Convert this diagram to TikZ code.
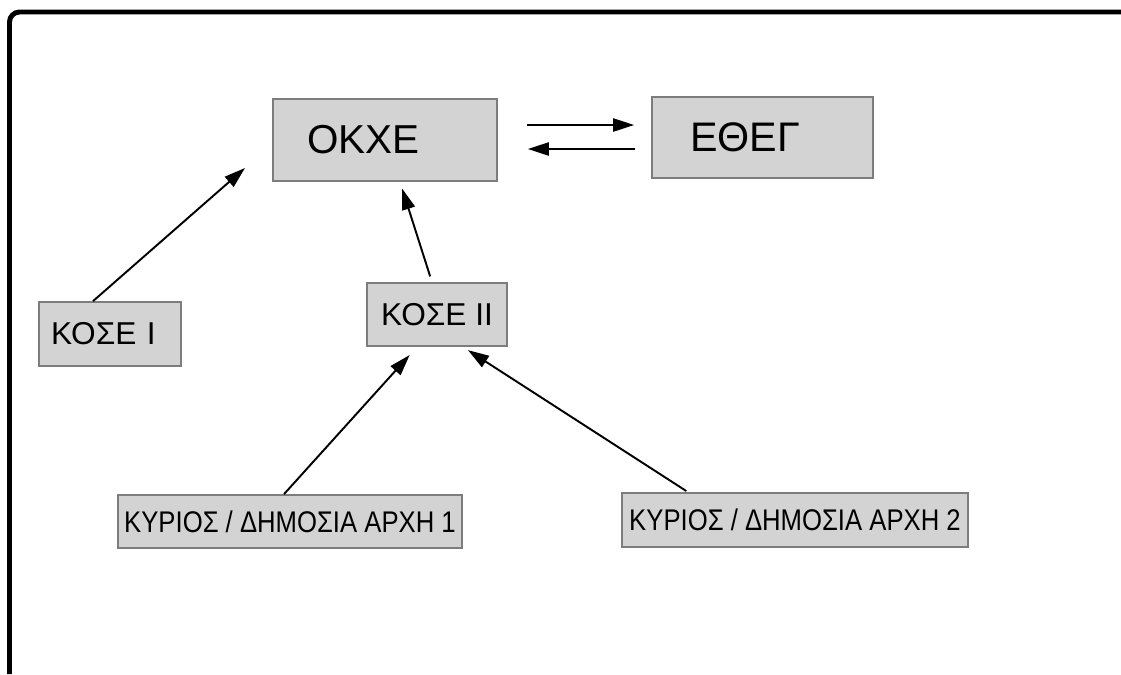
\documentclass[tikz,border=0pt]{standalone}
\usepackage{graphicx}
\usepackage{fontspec}
\setmainfont{Liberation Sans}
\usetikzlibrary{arrows.meta}
\definecolor{boxgray}{RGB}{211,211,211}
\definecolor{edgegray}{RGB}{125,125,125}

\begin{document}
\begin{tikzpicture}[x=.02cm, y=-.02cm,
	box/.style={draw=edgegray, fill=boxgray, line width=1pt, inner ysep=0pt},
	arr/.style={-{Triangle[length=12pt,width=7.5pt]}, line width=1.1pt}]
	\useasboundingbox (0,0) rectangle (1121,674);
	\draw [line width=2.8pt, rounded corners=.2cm] (9.5,674) -- (9.5,12) -- (1121,12);

	\node [box, minimum width=4.48cm, minimum height=1.64cm, inner xsep=.68cm, text width=3.12cm, align=left, font=\fontsize{23}{27}\selectfont] (okxe) at (385,140) {ΟΚΧΕ};
	\node [box, minimum width=4.42cm, minimum height=1.62cm, inner xsep=.76cm, text width=2.9cm, align=left, font=\fontsize{23.5}{27}\selectfont] (etheg) at (762.5,137.5) {ΕΘΕΓ};
	\node [box, minimum width=2.84cm, minimum height=1.28cm, inner xsep=.24cm, text width=2.36cm, align=left, font=\fontsize{18}{22}\selectfont] (kose1) at (110,334) {ΚΟΣΕ Ι};
	\node [box, minimum width=2.8cm, minimum height=1.26cm, font=\fontsize{18}{22}\selectfont] (kose2) at (437,314.5) {ΚΟΣΕ ΙΙ};
	\node [box, minimum width=6.88cm, minimum height=1.06cm, inner xsep=0pt, font=\fontsize{17}{20}\selectfont] (arxi1) at (290,521.5) {\scalebox{.86}[1]{ΚΥΡΙΟΣ / ΔΗΜΟΣΙΑ ΑΡΧΗ 1}};
	\node [box, minimum width=6.92cm, minimum height=1.08cm, inner xsep=0pt, font=\fontsize{17}{20}\selectfont] (arxi2) at (795,520) {\scalebox{.86}[1]{ΚΥΡΙΟΣ / ΔΗΜΟΣΙΑ ΑΡΧΗ 2}};

	\coordinate (okxein) at (245,168);
	\coordinate (upper) at ([yshift=.3cm]okxe.east);
	\coordinate (lower) at ([yshift=-.18cm]okxe.east);

	\draw [arr, shorten <=.58cm, shorten >=.34cm] (upper) -- (upper -| etheg.west);
	\draw [arr, shorten <=.32cm, shorten >=.6cm] (lower -| etheg.west) -- (lower);
	\draw [arr] ([xshift=-.34cm]kose1.north) -- (okxein);
	\draw [arr, shorten <=.12cm, shorten >=.14cm] ([xshift=-.1cm]kose2.north) -- ([xshift=.3cm]okxe.south);
	\draw [arr, shorten >=.22cm] ([xshift=-.12cm]arxi1.north) -- ([xshift=-.4cm]kose2.south);
	\draw [arr, shorten <=.04cm, shorten >=.12cm] ([xshift=-2.14cm]arxi2.north) -- ([xshift=-.9cm]kose2.south east);
\end{tikzpicture}
\end{document}
